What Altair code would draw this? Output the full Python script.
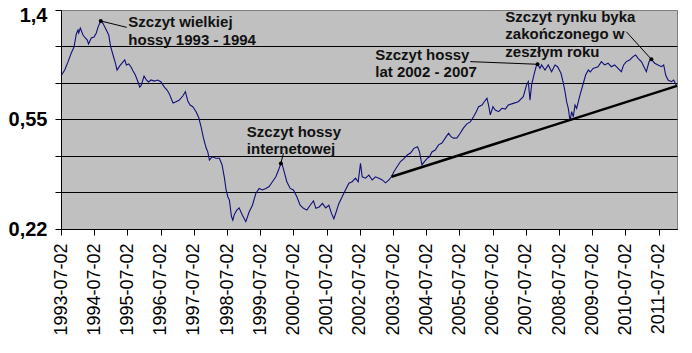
import altair as alt
import pandas as pd

# ---- data (decimal year, index value) ----
years = [
    1993.500, 1993.612, 1993.711, 1993.810, 1993.892, 1993.961, 1994.012, 1994.033, 1994.082, 1994.163,
    1994.232, 1994.293, 1994.329, 1994.413, 1994.495, 1994.564, 1994.615, 1994.697, 1994.766, 1994.865,
    1994.938, 1994.992, 1995.067, 1995.137, 1995.188, 1995.269, 1995.369, 1995.420, 1995.468, 1995.540,
    1995.610, 1995.670, 1995.739, 1995.821, 1995.872, 1995.920, 1996.002, 1996.071, 1996.137, 1996.212,
    1996.312, 1996.414, 1996.514, 1996.613, 1996.695, 1996.764, 1996.836, 1996.876, 1996.966, 1997.065,
    1997.168, 1997.246, 1997.319, 1997.388, 1997.469, 1997.569, 1997.650, 1997.719, 1997.789, 1997.870,
    1997.921, 1997.970, 1998.051, 1998.171, 1998.271, 1998.352, 1998.422, 1998.473, 1998.524, 1998.572,
    1998.633, 1998.675, 1998.723, 1998.795, 1998.865, 1998.964, 1999.067, 1999.166, 1999.266, 1999.368,
    1999.468, 1999.567, 1999.669, 1999.769, 1999.868, 1999.971, 2000.070, 2000.140, 2000.221, 2000.302,
    2000.402, 2000.501, 2000.604, 2000.703, 2000.803, 2000.905, 2001.005, 2001.104, 2001.176, 2001.276,
    2001.375, 2001.472, 2001.568, 2001.646, 2001.719, 2001.788, 2001.870, 2001.969, 2002.068, 2002.171,
    2002.270, 2002.370, 2002.451, 2002.521, 2002.572, 2002.671, 2002.774, 2002.873, 2002.973, 2003.075,
    2003.175, 2003.274, 2003.376, 2003.455, 2003.527, 2003.627, 2003.726, 2003.829, 2003.928, 2004.027,
    2004.130, 2004.238, 2004.299, 2004.371, 2004.440, 2004.522, 2004.600, 2004.672, 2004.772, 2004.871,
    2004.974, 2005.073, 2005.173, 2005.245, 2005.323, 2005.426, 2005.525, 2005.625, 2005.727, 2005.827,
    2005.926, 2006.008, 2006.077, 2006.180, 2006.249, 2006.330, 2006.379, 2006.430, 2006.511, 2006.580,
    2006.680, 2006.782, 2006.882, 2006.972, 2007.123, 2007.273, 2007.424, 2007.523, 2007.575, 2007.626,
    2007.674, 2007.756, 2007.825, 2007.855, 2007.927, 2007.976, 2008.078, 2008.177, 2008.277, 2008.379,
    2008.458, 2008.560, 2008.630, 2008.681, 2008.729, 2008.780, 2008.832, 2008.880, 2008.931, 2008.982,
    2009.031, 2009.133, 2009.233, 2009.302, 2009.383, 2009.443, 2009.525, 2009.675, 2009.775, 2009.874,
    2009.977, 2010.076, 2010.176, 2010.278, 2010.378, 2010.447, 2010.528, 2010.628, 2010.730, 2010.809,
    2010.881, 2010.981, 2011.080, 2011.131, 2011.213, 2011.282, 2011.382, 2011.484, 2011.583, 2011.653,
    2011.713, 2011.785, 2011.885, 2011.954, 2012.015, 2012.054,
]
values = [
    0.801, 0.843, 0.903, 0.973, 1.024, 1.143, 1.182, 1.153, 1.202, 1.133,
    1.105, 1.086, 1.050, 1.105, 1.114, 1.153, 1.212, 1.276, 1.249, 1.182,
    1.133, 1.032, 0.957, 0.895, 0.843, 0.873, 0.903, 0.918, 0.880, 0.888,
    0.865, 0.836, 0.808, 0.762, 0.730, 0.743, 0.801, 0.775, 0.762, 0.775,
    0.768, 0.775, 0.762, 0.730, 0.712, 0.689, 0.654, 0.638, 0.645, 0.654,
    0.677, 0.702, 0.649, 0.627, 0.618, 0.593, 0.563, 0.522, 0.475, 0.437,
    0.422, 0.394, 0.405, 0.400, 0.400, 0.378, 0.339, 0.306, 0.289, 0.281,
    0.245, 0.237, 0.249, 0.258, 0.263, 0.247, 0.234, 0.254, 0.269, 0.297,
    0.310, 0.306, 0.310, 0.315, 0.328, 0.342, 0.367, 0.388, 0.357, 0.328,
    0.310, 0.306, 0.289, 0.269, 0.262, 0.258, 0.269, 0.279, 0.262, 0.265,
    0.273, 0.263, 0.269, 0.251, 0.240, 0.254, 0.273, 0.289, 0.306, 0.324,
    0.328, 0.338, 0.328, 0.383, 0.342, 0.338, 0.347, 0.333, 0.342, 0.338,
    0.333, 0.325, 0.333, 0.342, 0.357, 0.373, 0.389, 0.399, 0.411, 0.418,
    0.435, 0.441, 0.422, 0.378, 0.388, 0.399, 0.405, 0.422, 0.429, 0.448,
    0.455, 0.474, 0.494, 0.480, 0.474, 0.475, 0.494, 0.517, 0.535, 0.544,
    0.568, 0.593, 0.618, 0.627, 0.645, 0.664, 0.627, 0.577, 0.618, 0.601,
    0.593, 0.610, 0.606, 0.627, 0.636, 0.645, 0.673, 0.743, 0.764, 0.654,
    0.743, 0.820, 0.880, 0.885, 0.855, 0.880, 0.843, 0.880, 0.831, 0.880,
    0.867, 0.820, 0.754, 0.702, 0.645, 0.610, 0.548, 0.593, 0.568, 0.627,
    0.610, 0.683, 0.754, 0.808, 0.843, 0.829, 0.855, 0.867, 0.905, 0.880,
    0.893, 0.867, 0.880, 0.855, 0.831, 0.880, 0.905, 0.918, 0.944, 0.957,
    0.931, 0.905, 0.855, 0.831, 0.905, 0.923, 0.893, 0.880, 0.867, 0.880,
    0.808, 0.775, 0.764, 0.775, 0.747, 0.737,
]

# support (trend) line
trend_t = [2003.455, 2012.054]
trend_v = [0.342, 0.737]

# annotations (first-line anchor) and their leader lines
ann_text = [
    "Szczyt wielkiej\nhossy 1993 - 1994",
    "Szczyt hossy\ninternetowej",
    "Szczyt hossy\nlat 2002 - 2007",
    "Szczyt rynku byka\nzakończonego w\nzeszłym roku",
]
ann_t = [1995.528, 1999.097, 2002.964, 2006.882]
ann_v = [1.212, 0.480, 0.918, 1.265]

lead_t1 = [1995.480, 2000.200, 2005.827, 2010.528]
lead_v1 = [1.209, 0.417, 0.905, 1.165]
lead_t2 = [1994.697, 2000.121, 2007.855, 2011.282]
lead_v2 = [1.276, 0.383, 0.885, 0.923]

# axes
y_ticks = [0.22, 0.2995, 0.4077, 0.555, 0.7555, 1.0285, 1.4]
y_labels = {0.22: "0,22", 0.555: "0,55", 1.4: "1,4"}
x_ticks = [1993.5 + i for i in range(19)]
x_domain = [1993.5, 2012.054]

# ---- build chart ----
df = pd.DataFrame({"t": years, "v": values})
trend_df = pd.DataFrame({"t": trend_t, "v": trend_v})
ann_df = pd.DataFrame({"t": ann_t, "v": ann_v, "label": ann_text})
lead_df = pd.DataFrame({"t": lead_t1, "v": lead_v1, "t2": lead_t2, "v2": lead_v2})

label_expr = " : ".join(
    f"abs(datum.value - {k}) < 0.001 ? '{lab}'" for k, lab in y_labels.items()
) + " : ''"

xscale = alt.Scale(domain=x_domain, nice=False, zero=False)
yscale = alt.Scale(type="log", domain=[0.22, 1.4], nice=False, zero=False)

x_axis = alt.Axis(
    values=x_ticks, labelExpr="floor(datum.value) + '-07-02'", labelAngle=270,
    labelFont="Arial", labelFontSize=18, labelColor="black", labelOverlap=False,
    labelFlush=False, tickSize=6, tickColor="black", labelPadding=8,
    domainColor="black", grid=False, title=None,
)
y_axis = alt.Axis(
    values=y_ticks, labelExpr=label_expr, labelFont="Arial", labelFontSize=20,
    labelFontWeight="bold", labelColor="black", labelFlush=False, labelOverlap=False,
    labelOffset={"condition": {"test": "datum.value > 1.3", "value": 5}, "value": 0},
    tickSize=6, tickColor="black", labelPadding=8, domainColor="black",
    grid=True,
    gridColor={"condition": {"test": "datum.value > 1.3", "value": "#808080"}, "value": "black"},
    gridOpacity=1, gridWidth=1, title=None,
)

X = lambda f: alt.X(f, scale=xscale, axis=x_axis)
Y = lambda f: alt.Y(f, scale=yscale, axis=y_axis)

line = alt.Chart(df).mark_line(color="#10107a", strokeWidth=1.1).encode(
    x=X("t:Q"), y=Y("v:Q"),
)

trend = alt.Chart(trend_df).mark_line(color="black", strokeWidth=2.5).encode(
    x=X("t:Q"), y=Y("v:Q"),
)

leads = alt.Chart(lead_df).mark_rule(color="black", strokeWidth=1).encode(
    x=X("t:Q"), y=Y("v:Q"), x2="t2:Q", y2="v2:Q",
)

dots = alt.Chart(lead_df).mark_circle(color="black", size=16, opacity=1).encode(
    x=X("t2:Q"), y=Y("v2:Q"),
)

texts = alt.Chart(ann_df).mark_text(
    align="left", baseline="alphabetic", font="Arial", fontSize=15,
    fontWeight="bold", color="#111111", lineBreak="\n", lineHeight=17.5,
).encode(
    x=X("t:Q"), y=Y("v:Q"), text="label:N",
)

chart = alt.layer(line, trend, leads, dots, texts).properties(
    width=616, height=219,
    padding={"left": 61, "top": 10, "right": 15, "bottom": 124},
    autosize=alt.AutoSizeParams(type="none"),
    background="white",
).configure_view(fill="#C0C0C0", stroke="#808080", strokeWidth=1)

chart.save("out.html", embed_options={"renderer": "svg", "actions": False})
